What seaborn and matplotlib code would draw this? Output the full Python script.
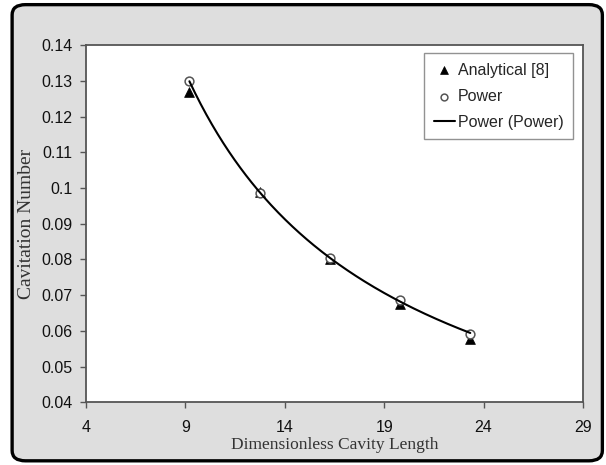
import numpy as np
import pandas as pd
import matplotlib
matplotlib.use("Agg")
import matplotlib.pyplot as plt
import seaborn as sns
from matplotlib.patches import FancyBboxPatch

# Data
cavity_length = [9.2, 12.73, 16.27, 19.8, 23.33]
analytical = [0.127, 0.0990, 0.0800, 0.0675, 0.0578]
power = [0.130, 0.0985, 0.0805, 0.0685, 0.0592]
x_ticks = [4, 9, 14, 19, 24, 29]
y_ticks = [0.04, 0.05, 0.06, 0.07, 0.08, 0.09, 0.1, 0.11, 0.12, 0.13, 0.14]
y_tick_labels = ["0.04", "0.05", "0.06", "0.07", "0.08", "0.09", "0.1", "0.11", "0.12", "0.13", "0.14"]

sns.set_theme(style="white")
plt.rcParams['font.family'] = ['Liberation Sans', 'DejaVu Sans']

# power-law trend line fitted to the "Power" points (as in the spreadsheet trendline)
b, ln_a = np.polyfit(np.log(cavity_length), np.log(power), 1)
x_fit = np.linspace(min(cavity_length), max(cavity_length), 200)
fit_df = pd.DataFrame({"x": x_fit, "y": np.exp(ln_a) * x_fit ** b})
df_a = pd.DataFrame({"x": cavity_length, "y": analytical})
df_p = pd.DataFrame({"x": cavity_length, "y": power})

fig = plt.figure(figsize=(6.06, 4.65), dpi=100)
fig.patch.set_facecolor("white")
frame = FancyBboxPatch((0.020, 0.009), 0.974, 0.981, boxstyle="round,pad=0,rounding_size=0.022",
                       transform=fig.transFigure, facecolor="#dedede", edgecolor="black",
                       linewidth=2.4, zorder=-10)
fig.patches.append(frame)

ax = fig.add_axes([0.142, 0.135, 0.820, 0.768])
ax.set_zorder(1)
ax.set_facecolor("white")

sns.scatterplot(data=df_a, x="x", y="y", ax=ax, marker="^", color="black", s=50,
                edgecolor="black", linewidth=0.5, label="Analytical [8]", zorder=3)
sns.scatterplot(data=df_p, x="x", y="y", ax=ax, marker="o", facecolor="white", s=40,
                edgecolor="#555555", linewidth=1.1, label="Power", zorder=4)
sns.lineplot(data=fit_df, x="x", y="y", ax=ax, color="black", linewidth=1.5,
             label="Power (Power)", zorder=5)

ax.set_xlim(4, 29)
ax.set_ylim(0.04, 0.14)
ax.set_xticks(x_ticks)
ax.set_xticklabels([str(t) for t in x_ticks])
ax.set_yticks(y_ticks)
ax.set_yticklabels(y_tick_labels)
ax.tick_params(axis="both", direction="out", length=4, width=1, colors="#555555",
               labelcolor="#111111", labelsize=11.5, left=True, bottom=True)
ax.tick_params(axis="x", pad=9)
ax.tick_params(axis="y", pad=6)
for s in ax.spines.values():
    s.set_color("#555555")
    s.set_linewidth(1.3)

ax.set_xlabel("Dimensionless Cavity Length", family="Liberation Serif", fontsize=12.5,
              color="#333333", labelpad=1)
ax.set_ylabel("Cavitation Number", family="Liberation Serif", fontsize=14,
              color="#333333", labelpad=4)

leg = ax.legend(loc="upper right", bbox_to_anchor=(0.980, 0.978), borderaxespad=0,
                frameon=True, fancybox=False, edgecolor="#777777", fontsize=11.5,
                handlelength=1.3, handletextpad=0.2, borderpad=0.6, labelspacing=0.7)
leg.get_frame().set_linewidth(1.0)
handles = leg.legend_handles
handles[0].set_sizes([32])
handles[1].set_sizes([24])

fig.savefig("out.png", dpi=100)
